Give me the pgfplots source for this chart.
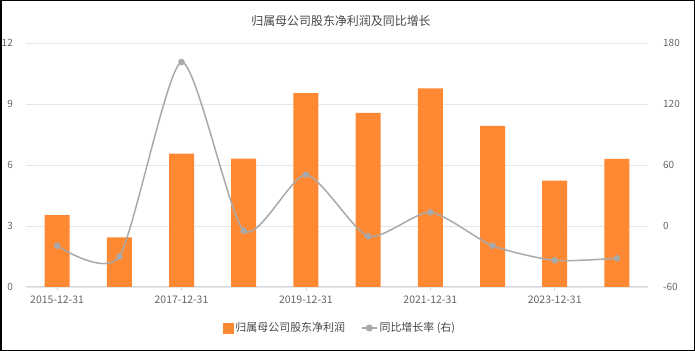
\documentclass[border=0pt]{standalone}
\usepackage{pgfplots}
\pgfplotsset{compat=1.18}
\usepackage{fontspec}
\setmainfont{Noto Sans CJK SC}
\definecolor{barorange}{HTML}{FF8933}
\definecolor{linegray}{HTML}{A9A9A9}
\definecolor{gridgray}{HTML}{E6E6E6}
\definecolor{axisblue}{HTML}{D3DAE6}
\definecolor{labelgray}{HTML}{666666}
\definecolor{titlegray}{HTML}{464646}
\pgfplotsset{
  base/.style={
    at={(26bp,64bp)}, anchor=south west, scale only axis,
    width=622bp, height=244bp, xmin=-0.5, xmax=9.5,
    /pgf/number format/assume math mode=true,
    ticklabel style={font=\fontsize{10}{12}\selectfont, text=labelgray, inner sep=0pt},
  }
}
\begin{document}
\begin{tikzpicture}
\path[use as bounding box] (0bp,0bp) rectangle (695bp,351bp);
\node[font=\fontsize{12}{14}\selectfont, text=titlegray] at (341bp,330bp) {归属母公司股东净利润及同比增长};
\begin{axis}[base,
  ymin=0, ymax=12, ytick={0,3,6,9,12},
  xtick={0,2,4,6,8},
  xticklabels={2015-12-31,2017-12-31,2019-12-31,2021-12-31,2023-12-31},
  xticklabel style={font=\fontsize{10.5}{12}\selectfont},
  axis x line*=bottom, axis y line*=left,
  y axis line style={draw=none},
  x axis line style={draw=axisblue, line width=1bp, -},
  ymajorgrids, grid style={draw=gridgray, line width=0.8bp},
  major tick length=4bp, tick align=outside,
  ytick style={draw=none},
  xtick style={draw=axisblue, line width=0.8bp},
  yticklabel shift=9bp,
  xticklabel shift=5bp,
]
\addplot[ybar, bar width=25bp, fill=barorange, draw=none] coordinates {
 (0,3.54) (1,2.44) (2,6.56) (3,6.31) (4,9.53) (5,8.56) (6,9.77) (7,7.92) (8,5.23) (9,6.30)
};
\end{axis}
\begin{axis}[base,
  ymin=-60, ymax=180, ytick={-60,0,60,120,180},
  axis y line*=right, axis x line=none,
  y axis line style={draw=none},
  major tick length=0pt,
  yticklabel shift=15bp,
  yticklabel style={anchor=west},
  legend style={at={(0.505,-0.168)}, anchor=center, draw=none, fill=none,
    legend columns=2, font=\fontsize{11}{12}\selectfont, text=titlegray,
    /tikz/every even column/.append style={column sep=14bp}},
  legend cell align=left,
]
\addlegendimage{legend image code/.code={\fill[barorange] (-2bp,-5bp) rectangle (8bp,5bp);}}
\addlegendentry{归属母公司股东净利润}
\addplot[linegray, line width=1.5bp, smooth, tension=0.4, mark=*, mark size=2.5bp,
  mark options={fill=linegray, draw=linegray},
  legend image code/.code={\draw[linegray, line width=1.5bp] (-2bp,0bp) -- (13bp,0bp); \fill[linegray] (5.5bp,0bp) circle (2.8bp);}]
 coordinates {
 (0,-19.4) (1,-30.2) (2,161.3) (3,-4.6) (4,50.5) (5,-10.1) (6,13.5) (7,-19.4) (8,-33.8) (9,-31.7)
};
\addlegendentry{同比增长率 (右)}
\end{axis}
\draw[black, line width=1.5bp] (0.75bp,0.75bp) rectangle (694.25bp,350.25bp);
\end{tikzpicture}
\end{document}
